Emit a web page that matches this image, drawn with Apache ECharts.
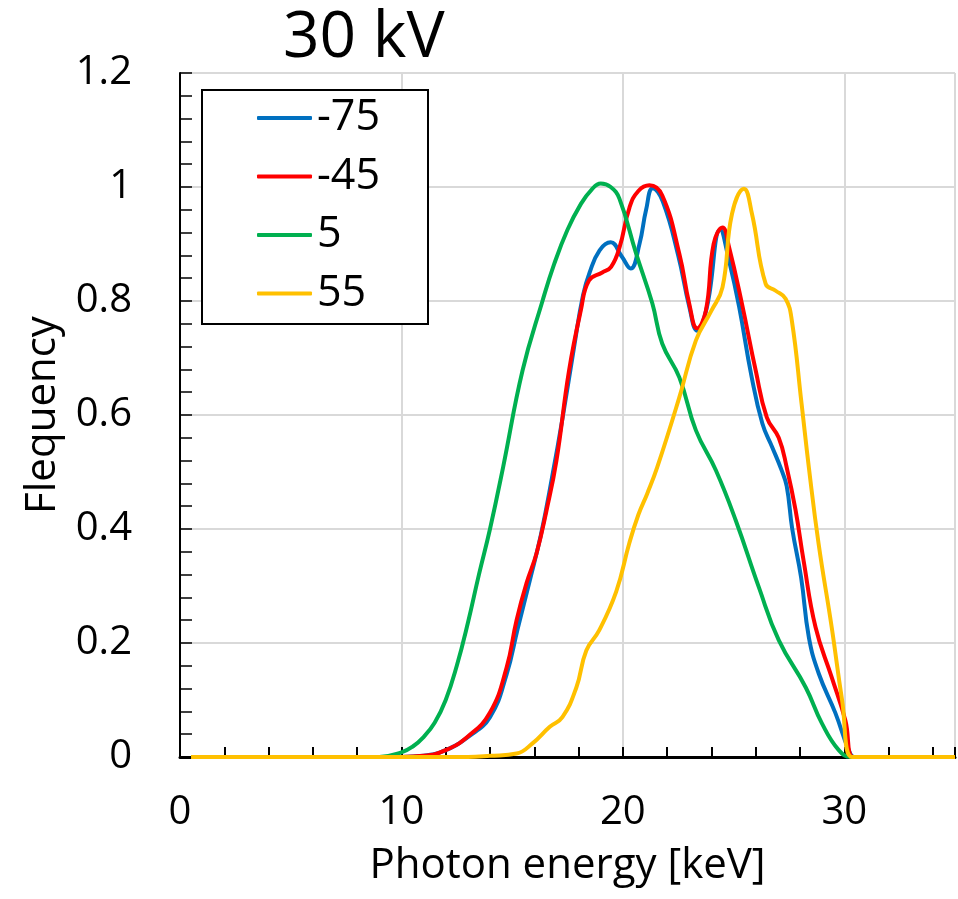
<!DOCTYPE html>
<html>
<head>
<meta charset="utf-8">
<script src="https://cdn.jsdelivr.net/npm/echarts@6/dist/echarts.min.js"></script>
<style>
  html, body { margin: 0; padding: 0; background: #fff; }
  #chart { width: 958px; height: 899px; }
</style>
</head>
<body>
<div id="chart"></div>
<script>
// series names (legend)
const seriesNames = ["-75", "-45", "5", "55"];

// -75
const energyBlue = [0.5, 10, 11, 12, 13, 14, 14.75, 15.25, 15.8, 16.3, 16.8, 17.3, 17.8, 18.2, 18.5, 18.95, 19.45, 19.95, 20.35, 20.75, 21.05, 21.35, 21.8, 22.5, 23.0, 23.35, 23.8, 24.4, 24.8, 25.25, 25.8, 26.3, 26.75, 27.15, 27.4, 27.65, 28.05, 28.4, 28.85, 29.6, 30.2, 30.45, 31, 35];
const freqBlue = [0, 0, 0.002, 0.012, 0.035, 0.07, 0.145, 0.225, 0.31, 0.39, 0.49, 0.6, 0.72, 0.81, 0.85, 0.889, 0.903, 0.878, 0.857, 0.9, 0.96, 0.998, 0.975, 0.88, 0.79, 0.748, 0.79, 0.925, 0.87, 0.79, 0.67, 0.585, 0.543, 0.505, 0.475, 0.40, 0.315, 0.21, 0.146, 0.077, 0.012, 0, 0, 0];

// -45
const energyRed = [0.5, 10, 11, 12, 13, 14, 14.75, 15.2, 15.65, 16.1, 16.55, 17.0, 17.57, 18.1, 18.47, 19.07, 19.47, 19.85, 20.3, 20.7, 21.2, 21.78, 22.55, 23.0, 23.35, 23.75, 24.1, 24.5, 24.8, 25.38, 26.0, 26.5, 27.04, 27.4, 27.8, 28.16, 28.7, 29.43, 30.05, 30.4, 31, 35];
const freqRed = [0, 0, 0.002, 0.012, 0.036, 0.078, 0.157, 0.24, 0.305, 0.357, 0.432, 0.52, 0.678, 0.783, 0.836, 0.85, 0.86, 0.894, 0.964, 0.993, 1.003, 0.985, 0.883, 0.795, 0.752, 0.783, 0.90, 0.929, 0.894, 0.795, 0.678, 0.596, 0.56, 0.508, 0.433, 0.345, 0.228, 0.14, 0.064, 0, 0, 0];

// 5
const energyGreen = [0.5, 9, 10, 10.5, 11, 11.5, 12, 12.5, 13, 13.5, 14, 14.6, 15.47, 16.37, 16.9, 17.5, 18.1, 18.6, 19.0, 19.45, 19.84, 20.6, 21.33, 21.78, 22.55, 23.3, 24.2, 25.1, 26.14, 27.04, 28.26, 28.99, 29.75, 30.3, 31, 35];
const freqGreen = [0, 0, 0.008, 0.018, 0.035, 0.06, 0.1, 0.16, 0.235, 0.32, 0.40, 0.51, 0.678, 0.80, 0.865, 0.925, 0.97, 0.996, 1.006, 1.0, 0.98, 0.883, 0.796, 0.725, 0.666, 0.573, 0.503, 0.415, 0.298, 0.205, 0.122, 0.059, 0.012, 0, 0, 0];

// 55
const energyYellow = [0.5, 13, 14, 15.2, 15.92, 16.7, 17.27, 17.9, 18.35, 18.93, 19.7, 20.29, 20.7, 21.1, 21.55, 22.55, 23.3, 24.0, 24.5, 24.93, 25.47, 25.83, 26.45, 26.9, 27.35, 27.63, 28.07, 28.4, 28.84, 29.43, 29.9, 30.35, 31, 35];
const freqYellow = [0, 0, 0.002, 0.006, 0.024, 0.053, 0.07, 0.122, 0.187, 0.222, 0.29, 0.375, 0.425, 0.462, 0.508, 0.631, 0.731, 0.783, 0.824, 0.953, 0.997, 0.953, 0.83, 0.818, 0.804, 0.766, 0.62, 0.508, 0.374, 0.228, 0.1, 0, 0, 0];

const colors = ["#0070C0", "#FF0000", "#00B050", "#FFC000"];
const font = "Open Sans";

function pairs(xs, ys) {
  return xs.map((x, i) => [x, ys[i]]);
}

let myChart = echarts.init(document.getElementById("chart"));

let seriesData = [
  pairs(energyBlue, freqBlue),
  pairs(energyRed, freqRed),
  pairs(energyGreen, freqGreen),
  pairs(energyYellow, freqYellow)
];

myChart.setOption({
  animation: false,
  color: colors,
  title: {
    text: "30 kV",
    left: 278,
    top: 2,
    textStyle: { fontFamily: font, fontSize: 64, fontWeight: "normal", color: "#000" }
  },
  graphic: [
    {
      type: "rect",
      left: 201,
      top: 89,
      z: 3,
      shape: { width: 226, height: 234 },
      style: { fill: "#fff", stroke: "#000", lineWidth: 2 }
    }
  ],
  legend: {
    orient: "vertical",
    left: 257,
    top: 96,
    padding: 0,
    icon: "roundRect",
    itemWidth: 55,
    itemHeight: 4,
    itemGap: 14.5,
    z: 5,
    textStyle: { fontFamily: font, fontSize: 43, lineHeight: 44, color: "#000" },
    data: seriesNames
  },
  grid: {
    left: 180,
    top: 73,
    right: 3,
    bottom: 142,
    show: true,
    borderColor: "#000",
    borderWidth: 1
  },
  xAxis: [
    {
      type: "value",
      position: "bottom",
      min: 0,
      max: 35,
      interval: 10,
      name: "Photon energy [keV]",
      nameLocation: "middle",
      nameGap: 88,
      nameTextStyle: { fontFamily: font, fontSize: 42, color: "#000" },
      axisLine: { lineStyle: { color: "#000", width: 3 } },
      axisTick: { show: false },
      axisLabel: {
        margin: 36,
        showMaxLabel: false,
        fontFamily: font,
        fontSize: 40,
        color: "#000"
      },
      splitLine: { lineStyle: { color: "#d9d9d9", width: 2 } }
    },
    {
      // only for the small ticks every 2 keV
      type: "value",
      position: "bottom",
      min: 0,
      max: 35,
      interval: 2,
      axisLine: { show: false },
      axisTick: { inside: true, length: 10, lineStyle: { color: "#000", width: 2 } },
      axisLabel: { show: false },
      splitLine: { show: false }
    }
  ],
  yAxis: {
    type: "value",
    min: 0,
    max: 1.2,
    interval: 0.2,
    name: "Flequency",
    nameLocation: "middle",
    nameGap: 116,
    nameTextStyle: { fontFamily: font, fontSize: 42, color: "#000" },
    axisLine: { show: true, lineStyle: { color: "#000", width: 2 } },
    axisTick: { inside: true, length: 12, lineStyle: { color: "#000", width: 1.5 } },
    minorTick: { show: true, splitNumber: 5, length: 12, lineStyle: { color: "#000", width: 1.5 } },
    axisLabel: {
      margin: 48,
      fontFamily: font,
      fontSize: 40,
      color: "#000",
      formatter: function (v) {
        return String(Math.round(v * 10) / 10);
      }
    },
    splitLine: { lineStyle: { color: "#d9d9d9", width: 2 } }
  },
  series: seriesNames.map(function (name, i) {
    return {
      name: name,
      type: "line",
      xAxisIndex: 0,
      data: seriesData[i],
      smooth: 0.45,
      symbol: "none",
      lineStyle: { width: 4, color: colors[i] },
      z: 2 + i * 0.1
    };
  })
});
</script>
</body>
</html>
